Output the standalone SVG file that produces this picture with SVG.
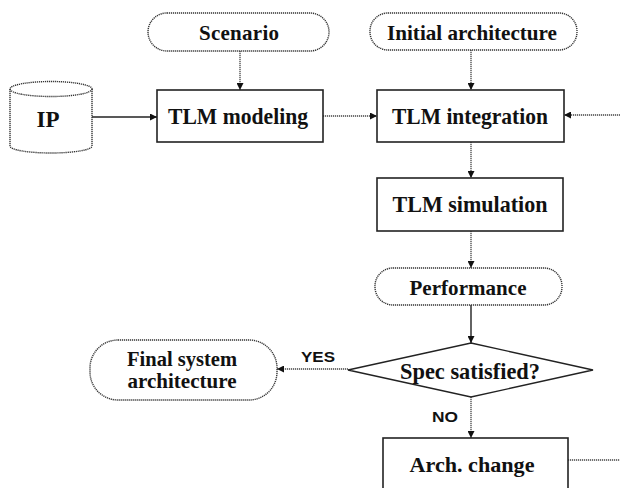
<svg xmlns="http://www.w3.org/2000/svg" width="620" height="488" viewBox="0 0 620 488">
<style>
.t{font-family:"Liberation Serif","Times New Roman",serif;font-weight:bold;font-size:21px;fill:#111;text-anchor:middle}
.b{font-size:24px}
.s{font-family:"Liberation Sans",Arial,sans-serif;font-weight:bold;font-size:15px;fill:#111;text-anchor:middle}
.box{fill:#fff;stroke:#222;stroke-width:1.6}
.pill{fill:#fff;stroke:#333;stroke-width:1.4;stroke-dasharray:1.2 0.8}
.dot{fill:none;stroke:#444;stroke-width:1.3;stroke-dasharray:1.2 0.8}
.sol{fill:none;stroke:#222;stroke-width:1.4}
</style>
<defs>
<marker id="a" viewBox="0 0 10 10" refX="10" refY="5" markerWidth="7" markerHeight="7" markerUnits="userSpaceOnUse" orient="auto">
<path d="M0,0 L10,5 L0,10 z" fill="#111"/>
</marker>
</defs>
<rect width="620" height="488" fill="#fff"/>
<g id="connectors">
<line class="dot" x1="240" y1="51" x2="240" y2="90" marker-end="url(#a)"/>
<line class="dot" x1="471" y1="50" x2="471" y2="90" marker-end="url(#a)"/>
<line class="sol" x1="92" y1="117" x2="157" y2="117" marker-end="url(#a)"/>
<line class="dot" x1="323" y1="116" x2="377" y2="116" marker-end="url(#a)"/>
<line class="dot" x1="620" y1="115" x2="564" y2="115" marker-end="url(#a)"/>
<line class="dot" x1="471" y1="142" x2="471" y2="178" marker-end="url(#a)"/>
<line class="dot" x1="471" y1="231" x2="471" y2="268" marker-end="url(#a)"/>
<line class="sol" x1="471" y1="305" x2="471" y2="343" marker-end="url(#a)"/>
<line class="dot" x1="348" y1="369" x2="277" y2="369" marker-end="url(#a)"/>
<line class="dot" x1="471" y1="397" x2="471" y2="438" marker-end="url(#a)"/>
<line class="dot" x1="568" y1="460" x2="620" y2="460"/>
<text class="s" x="318" y="362" textLength="34" lengthAdjust="spacingAndGlyphs">YES</text>
<text class="s" x="445" y="422" textLength="26" lengthAdjust="spacingAndGlyphs">NO</text>
</g>
<g id="scenario">
<rect class="pill" x="148" y="13" width="181" height="38" rx="19"/>
<text class="t" x="239" y="40" textLength="80" lengthAdjust="spacing">Scenario</text>
</g>
<g id="initial-architecture">
<rect class="pill" x="370" y="13" width="207" height="37" rx="18"/>
<text class="t" x="472" y="40" textLength="170" lengthAdjust="spacingAndGlyphs" style="font-size:22px">Initial architecture</text>
</g>
<g id="ip">
<path class="pill" d="M10,89 L10,146 A41,7 0 0 0 92,146 L92,89"/>
<ellipse class="pill" cx="51" cy="89" rx="41" ry="7.5"/>
<text class="t" x="48" y="127" style="font-size:23px">IP</text>
</g>
<g id="tlm-modeling">
<rect class="box" x="157" y="90" width="166" height="52"/>
<text class="t b" x="238" y="124" textLength="140" lengthAdjust="spacingAndGlyphs">TLM modeling</text>
</g>
<g id="tlm-integration">
<rect class="box" x="377" y="90" width="187" height="52"/>
<text class="t b" x="470" y="124" textLength="156" lengthAdjust="spacingAndGlyphs">TLM integration</text>
</g>
<g id="tlm-simulation">
<rect class="box" x="377" y="178" width="186" height="53"/>
<text class="t b" x="470" y="212" textLength="155" lengthAdjust="spacingAndGlyphs">TLM simulation</text>
</g>
<g id="performance">
<rect class="pill" x="375" y="268" width="187" height="37" rx="18"/>
<text class="t" x="468" y="295" textLength="117" lengthAdjust="spacing">Performance</text>
</g>
<g id="spec-satisfied">
<polygon class="sol" fill="#fff" points="471,343 593,370 471,397 348,370"/>
<text class="t" x="470" y="379" textLength="140" lengthAdjust="spacingAndGlyphs" style="font-size:23px">Spec satisfied?</text>
</g>
<g id="final-system-architecture">
<rect class="pill" x="90" y="340" width="187" height="60" rx="28"/>
<text class="t" x="182" y="366" textLength="110" lengthAdjust="spacingAndGlyphs">Final system</text>
<text class="t" x="182" y="388" textLength="109" lengthAdjust="spacingAndGlyphs">architecture</text>
</g>
<g id="arch-change">
<rect class="box" x="383" y="438" width="185" height="60"/>
<text class="t" x="472" y="472" textLength="125" lengthAdjust="spacingAndGlyphs" style="font-size:22px">Arch. change</text>
</g>
</svg>
